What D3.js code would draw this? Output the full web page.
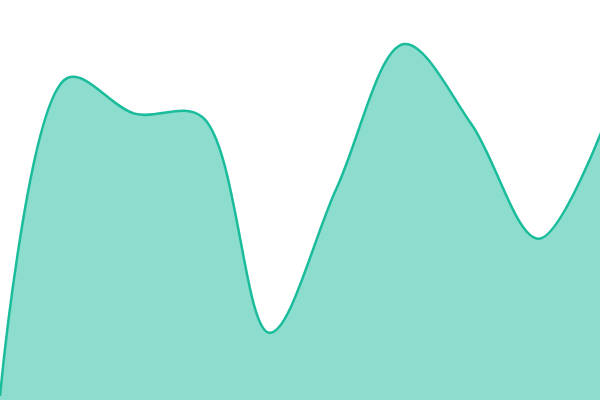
<!DOCTYPE html>
<html>
<head>
<meta charset="utf-8">
<script src="https://cdn.jsdelivr.net/npm/d3@7"></script>
<style>
  html, body { margin: 0; padding: 0; background: #fff; }
  svg { display: block; }
</style>
</head>
<body>
<svg id="chart" width="600" height="400"></svg>
<script>
const indexes = [0, 1, 2, 3, 4, 5, 6, 7, 8, 9];
const values = [1, 80.5, 71.6, 70.8, 16.8, 53, 89, 69, 40.3, 70];

const width = 600;
const height = 400;

const svg = d3.select("#chart");

const x = d3.scaleLinear().domain([0, indexes.length - 1]).range([0, 606]);
const y = d3.scaleLinear().domain([0, 100]).range([height, 0]);

const data = indexes.map((d, i) => ({ i: d, v: values[i] }));

const area = d3
  .area()
  .x((d) => x(d.i))
  .y0(height)
  .y1((d) => y(d.v))
  .curve(d3.curveCatmullRom);

const line = d3
  .line()
  .x((d) => x(d.i))
  .y((d) => y(d.v))
  .curve(d3.curveCatmullRom);

svg
  .append("path")
  .datum(data)
  .attr("d", area)
  .attr("fill", "#1abc9c")
  .attr("fill-opacity", 0.5);

svg
  .append("path")
  .datum(data)
  .attr("d", line)
  .attr("fill", "none")
  .attr("stroke", "#1abc9c")
  .attr("stroke-width", 2.5);
</script>
</body>
</html>
